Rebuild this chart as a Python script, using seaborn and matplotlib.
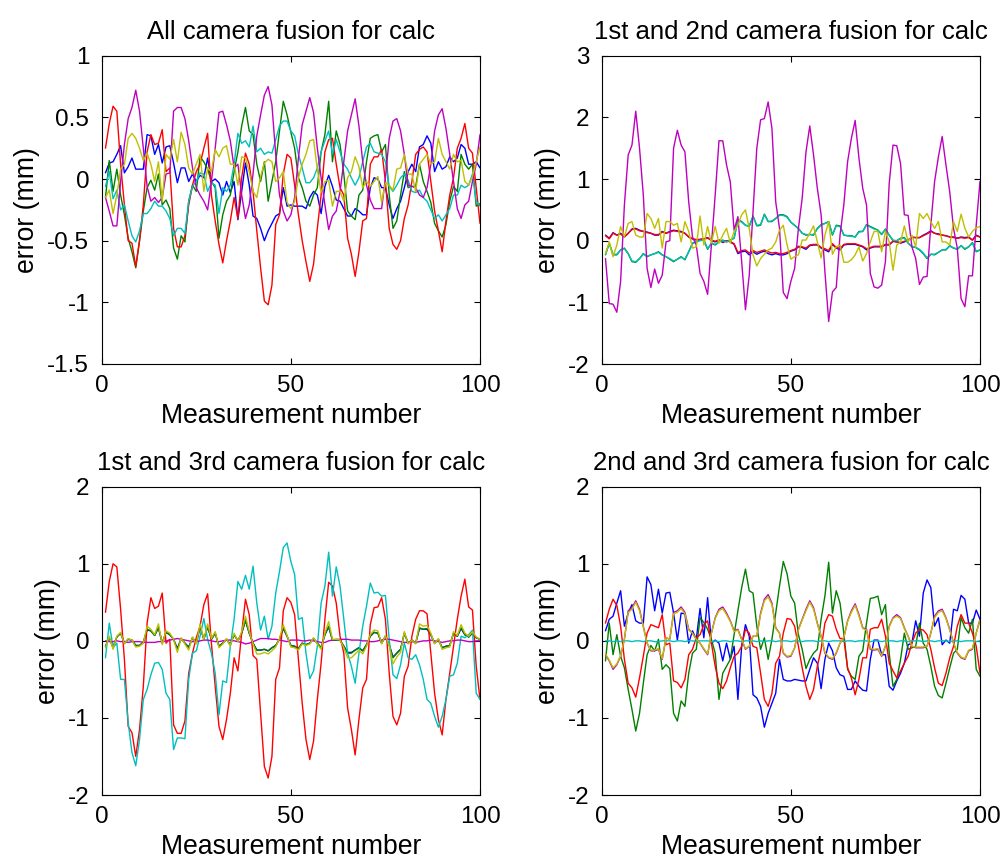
import numpy as np
import pandas as pd
import matplotlib
matplotlib.use("Agg")
import matplotlib.pyplot as plt
import seaborn as sns

# ---------------------------------------------------------------- data
meas = list(range(1, 101))

# panel 1: all camera fusion
p1_blue = [0.05, 0.13, 0.14, 0.20, 0.27, 0.05, 0.10, 0.17, 0.08, 0.08,
           0.08, 0.36, 0.35, 0.20, 0.28, 0.13, 0.26, 0.27, 0.13, -0.03,
           0.09, 0.09, -0.02, 0.04, -0.02, 0.03, 0.01, 0.17, -0.02, 0.00,
           -0.03, -0.13, -0.02, -0.11, -0.02, -0.33, -0.10, 0.13, -0.05, -0.30,
           -0.32, -0.40, -0.50, -0.42, -0.36, -0.30, -0.28, -0.07, -0.22, -0.21,
           -0.22, -0.22, -0.22, -0.24, -0.15, -0.10, -0.13, -0.28, -0.06, 0.03,
           -0.06, -0.17, -0.18, -0.24, -0.30, -0.30, -0.24, -0.26, -0.29, -0.29,
           -0.07, 0.01, 0.00, -0.07, -0.07, -0.21, -0.32, -0.24, -0.18, -0.07,
           0.06, 0.12, 0.06, 0.26, 0.28, 0.35, 0.29, 0.06, 0.14, 0.08,
           0.10, 0.18, 0.14, 0.17, 0.28, 0.25, 0.12, 0.12, 0.14, 0.09]
p1_green = [-0.15, 0.15, -0.10, 0.08, -0.13, -0.29, -0.48, -0.59, -0.72, -0.50,
            -0.26, -0.07, -0.01, -0.09, 0.04, -0.21, -0.17, -0.24, -0.56, -0.65,
            -0.46, -0.51, -0.18, -0.05, -0.10, 0.18, 0.14, 0.08, -0.02, -0.07,
            -0.48, -0.29, -0.18, -0.13, 0.06, 0.22, 0.43, 0.58, 0.39, 0.36,
            0.12, -0.02, 0.14, -0.18, -0.02, 0.14, 0.39, 0.63, 0.52, 0.38,
            0.25, 0.01, -0.07, -0.18, -0.22, -0.13, -0.07, 0.22, 0.36, 0.63,
            0.14, 0.39, 0.28, 0.04, -0.26, -0.30, -0.33, -0.13, -0.09, 0.14,
            0.33, 0.35, 0.36, 0.22, 0.28, -0.13, -0.40, -0.34, -0.13, 0.06,
            -0.07, -0.06, -0.06, 0.12, -0.02, -0.10, -0.19, -0.36, -0.42, -0.47,
            -0.37, -0.18, -0.06, -0.10, 0.20, 0.12, 0.08, 0.12, -0.22, -0.20]
p1_red = [0.25, 0.45, 0.59, 0.55, 0.12, -0.21, -0.50, -0.52, -0.71, -0.50,
          -0.21, 0.22, 0.36, 0.28, 0.29, 0.40, 0.06, 0.09, -0.40, -0.55,
          -0.55, -0.46, -0.21, -0.05, 0.06, 0.12, 0.25, 0.37, -0.13, -0.34,
          -0.53, -0.68, -0.50, -0.34, -0.15, -0.32, 0.01, 0.21, 0.12, -0.10,
          -0.42, -0.72, -0.99, -1.02, -0.86, -0.37, -0.29, 0.04, 0.20, 0.17,
          -0.05, -0.29, -0.50, -0.67, -0.83, -0.69, -0.40, -0.13, 0.22, 0.32,
          0.33, 0.12, -0.07, -0.13, -0.48, -0.61, -0.79, -0.59, -0.34, -0.32,
          0.12, 0.18, 0.18, 0.24, -0.02, -0.40, -0.53, -0.57, -0.50, -0.32,
          -0.21, -0.02, 0.20, 0.24, 0.26, 0.22, -0.02, -0.26, -0.42, -0.59,
          -0.34, -0.13, 0.01, 0.25, 0.33, 0.45, 0.25, 0.21, -0.07, -0.36]
p1_cyan = [-0.06, 0.06, -0.16, -0.09, -0.25, -0.21, -0.34, -0.46, -0.51, -0.42,
           -0.28, -0.28, -0.24, -0.18, -0.22, -0.22, -0.26, -0.32, -0.46, -0.40,
           -0.40, -0.44, -0.18, -0.06, -0.02, 0.05, 0.04, -0.10, -0.03, -0.05,
           -0.28, -0.07, -0.10, -0.05, 0.12, 0.37, 0.29, 0.31, 0.26, 0.43,
           0.22, 0.25, 0.20, 0.22, 0.21, 0.32, 0.43, 0.47, 0.47, 0.39,
           0.35, 0.20, 0.09, -0.03, -0.03, 0.01, 0.09, 0.22, 0.31, 0.39,
           0.20, 0.32, 0.22, 0.12, 0.08, 0.01, -0.05, 0.01, 0.14, 0.26,
           0.29, 0.22, 0.21, 0.20, 0.14, -0.06, -0.10, -0.05, 0.01, 0.04,
           -0.01, -0.10, -0.11, -0.09, -0.15, -0.18, -0.25, -0.32, -0.29, -0.34,
           -0.29, -0.24, -0.13, -0.13, -0.05, -0.07, -0.05, 0.04, -0.18, -0.22]
p1_magenta = [-0.15, -0.26, -0.38, -0.38, -0.02, 0.28, 0.49, 0.58, 0.72, 0.55,
              0.25, -0.06, -0.18, -0.15, -0.19, -0.15, 0.04, 0.05, 0.55, 0.58,
              0.58, 0.49, 0.31, 0.09, -0.07, -0.13, -0.18, -0.25, -0.02, 0.25,
              0.54, 0.55, 0.44, 0.31, 0.09, 0.12, -0.13, -0.32, -0.21, 0.04,
              0.35, 0.52, 0.68, 0.75, 0.60, 0.20, -0.13, -0.26, -0.34, -0.29,
              -0.15, 0.17, 0.44, 0.55, 0.66, 0.54, 0.25, 0.01, -0.21, -0.41,
              -0.30, -0.26, -0.10, 0.14, 0.39, 0.52, 0.65, 0.43, 0.14, -0.05,
              -0.17, -0.24, -0.24, -0.24, 0.01, 0.33, 0.47, 0.49, 0.39, 0.20,
              -0.05, -0.06, -0.07, -0.13, -0.15, -0.07, 0.12, 0.39, 0.52, 0.57,
              0.41, 0.20, -0.02, -0.24, -0.32, -0.21, -0.18, -0.02, 0.12, 0.36]
p1_yellow = [-0.15, -0.09, -0.28, -0.13, 0.08, 0.12, 0.33, 0.37, 0.33, 0.25,
             0.15, 0.21, 0.12, -0.02, 0.14, -0.18, 0.20, 0.16, 0.32, 0.14,
             0.38, 0.28, 0.09, 0.04, 0.12, 0.20, -0.10, 0.09, 0.06, 0.24,
             0.18, 0.25, 0.27, 0.12, 0.12, -0.05, 0.18, 0.17, 0.06, -0.10,
             -0.15, 0.02, 0.13, 0.16, 0.14, -0.02, 0.01, 0.06, -0.19, -0.24,
             -0.18, 0.01, 0.12, 0.20, 0.31, 0.32, 0.08, -0.11, -0.02, -0.01,
             -0.22, -0.10, -0.10, -0.18, 0.01, 0.06, 0.18, 0.10, -0.07, -0.02,
             -0.06, -0.02, 0.02, -0.19, -0.03, -0.05, -0.09, 0.08, 0.09, 0.20,
             0.04, 0.04, -0.10, 0.12, 0.16, 0.20, 0.12, 0.14, 0.33, 0.20,
             0.14, 0.08, 0.20, 0.14, 0.15, -0.02, -0.05, 0.02, 0.14, 0.26]

# panel 2: 1st and 2nd camera fusion
p2_blue = [0.09, 0.04, 0.13, 0.09, 0.12, 0.06, 0.12, 0.19, 0.20, 0.17,
           0.15, 0.14, 0.12, 0.09, 0.09, 0.15, 0.12, 0.15, 0.17, 0.16,
           0.15, 0.12, 0.06, 0.03, 0.01, 0.02, 0.03, 0.05, 0.00, -0.02,
           0.01, -0.03, 0.00, -0.02, -0.06, -0.21, -0.18, -0.17, -0.23, -0.18,
           -0.22, -0.19, -0.17, -0.21, -0.23, -0.21, -0.23, -0.23, -0.21, -0.17,
           -0.15, -0.10, -0.11, -0.14, -0.08, -0.07, -0.07, -0.12, -0.15, -0.18,
           -0.06, -0.12, -0.15, -0.07, -0.06, -0.06, -0.06, -0.08, -0.10, -0.15,
           -0.12, -0.10, -0.10, -0.10, -0.07, -0.07, -0.01, -0.02, -0.04, -0.02,
           0.01, 0.06, 0.05, 0.05, 0.09, 0.12, 0.16, 0.12, 0.11, 0.09,
           0.08, 0.06, 0.06, 0.04, 0.06, 0.05, 0.06, 0.01, 0.09, 0.06]
p2_green = [-0.23, -0.04, -0.23, -0.23, -0.15, -0.12, -0.21, -0.34, -0.35, -0.29,
            -0.21, -0.26, -0.23, -0.21, -0.18, -0.23, -0.26, -0.30, -0.34, -0.30,
            -0.26, -0.31, -0.18, -0.04, -0.02, 0.01, 0.01, -0.14, -0.04, -0.07,
            -0.02, 0.01, -0.02, 0.01, 0.04, 0.34, 0.31, 0.25, 0.23, 0.40,
            0.24, 0.25, 0.43, 0.31, 0.31, 0.36, 0.42, 0.42, 0.39, 0.30,
            0.25, 0.20, 0.12, 0.09, 0.10, 0.09, 0.20, 0.26, 0.28, 0.31,
            0.09, 0.25, 0.24, 0.09, 0.08, 0.08, 0.06, 0.15, 0.15, 0.26,
            0.23, 0.20, 0.17, 0.10, 0.19, 0.09, 0.00, 0.00, 0.04, 0.05,
            -0.04, -0.10, -0.11, -0.15, -0.21, -0.29, -0.22, -0.23, -0.19, -0.15,
            -0.15, -0.08, -0.12, -0.14, -0.08, -0.14, -0.10, -0.03, -0.18, -0.15]
p2_red = [0.08, 0.03, 0.12, 0.09, 0.11, 0.06, 0.12, 0.18, 0.19, 0.16,
          0.15, 0.13, 0.12, 0.10, 0.10, 0.14, 0.12, 0.14, 0.16, 0.15,
          0.14, 0.12, 0.06, 0.03, 0.02, 0.02, 0.03, 0.04, 0.01, -0.01,
          0.01, -0.02, 0.00, -0.01, -0.05, -0.19, -0.16, -0.15, -0.20, -0.16,
          -0.19, -0.17, -0.15, -0.18, -0.20, -0.19, -0.21, -0.21, -0.19, -0.16,
          -0.14, -0.09, -0.10, -0.12, -0.07, -0.06, -0.06, -0.11, -0.13, -0.16,
          -0.05, -0.11, -0.13, -0.06, -0.05, -0.05, -0.05, -0.07, -0.09, -0.13,
          -0.11, -0.09, -0.09, -0.09, -0.06, -0.06, -0.01, -0.02, -0.03, -0.01,
          0.01, 0.05, 0.05, 0.05, 0.08, 0.11, 0.15, 0.12, 0.10, 0.09,
          0.08, 0.06, 0.05, 0.04, 0.05, 0.04, 0.05, 0.01, 0.08, 0.06]
p2_cyan = [-0.22, -0.05, -0.22, -0.22, -0.15, -0.13, -0.21, -0.33, -0.34, -0.29,
           -0.22, -0.25, -0.23, -0.21, -0.19, -0.23, -0.26, -0.29, -0.33, -0.30,
           -0.27, -0.30, -0.18, -0.05, -0.02, 0.00, 0.01, -0.13, -0.04, -0.06,
           -0.02, 0.00, -0.02, 0.01, 0.04, 0.33, 0.30, 0.25, 0.24, 0.39,
           0.25, 0.26, 0.42, 0.31, 0.32, 0.36, 0.41, 0.41, 0.38, 0.30,
           0.25, 0.19, 0.12, 0.10, 0.10, 0.10, 0.19, 0.25, 0.28, 0.30,
           0.10, 0.24, 0.23, 0.09, 0.08, 0.07, 0.06, 0.14, 0.15, 0.25,
           0.22, 0.19, 0.17, 0.11, 0.18, 0.09, 0.01, 0.00, 0.03, 0.04,
           -0.04, -0.09, -0.11, -0.14, -0.20, -0.28, -0.22, -0.22, -0.19, -0.15,
           -0.14, -0.09, -0.12, -0.13, -0.08, -0.13, -0.10, -0.04, -0.17, -0.15]
p2_magenta = [-0.29, -1.02, -1.03, -1.16, -0.66, 0.58, 1.39, 1.55, 2.10, 1.50,
              0.74, -0.45, -0.76, -0.46, -0.69, -0.56, -0.02, 0.00, 1.50, 1.79,
              1.55, 1.44, 0.63, 0.06, -0.07, -0.53, -0.66, -0.87, -0.07, 0.74,
              1.62, 1.62, 1.23, 0.95, 0.17, 0.39, -0.34, -1.12, -0.56, 0.47,
              1.50, 1.96, 1.98, 2.25, 1.82, 0.63, 0.20, -0.84, -0.94, -0.66,
              -0.45, 0.20, 0.69, 1.44, 1.86, 1.39, 0.85, 0.42, -0.50, -1.31,
              -0.83, -0.76, 0.09, 0.58, 1.28, 1.66, 1.95, 1.34, 0.85, 0.58,
              -0.53, -0.75, -0.77, -0.72, -0.34, 0.93, 1.55, 1.54, 1.25, 0.42,
              0.41, -0.10, -0.29, -0.71, -0.59, -0.58, 0.25, 0.96, 1.36, 1.69,
              1.23, 0.79, 0.20, -0.12, -0.94, -1.07, -0.57, -0.57, 0.25, 0.96]
p2_yellow = [-0.21, -0.02, -0.26, -0.07, 0.23, 0.06, 0.28, 0.31, 0.09, 0.06,
             0.06, 0.44, 0.36, 0.20, 0.36, -0.12, 0.31, 0.31, 0.25, 0.28,
             -0.02, 0.31, 0.15, -0.12, -0.10, 0.40, -0.07, 0.23, -0.04, 0.23,
             -0.04, 0.09, 0.20, -0.04, 0.15, 0.25, 0.42, 0.50, 0.20, -0.23,
             -0.41, -0.29, -0.22, -0.15, -0.12, -0.02, 0.17, 0.25, -0.07, -0.30,
             -0.26, -0.23, 0.01, 0.01, 0.12, 0.24, -0.02, -0.28, 0.09, 0.31,
             -0.22, -0.10, -0.07, -0.35, -0.35, -0.31, -0.23, -0.10, -0.33, -0.21,
             -0.02, 0.15, 0.15, -0.18, 0.15, -0.02, -0.48, -0.07, -0.02, 0.24,
             -0.02, 0.09, -0.10, 0.44, 0.36, 0.44, 0.31, 0.20, 0.31, -0.02,
             -0.02, -0.07, 0.31, 0.15, 0.43, 0.20, 0.06, 0.15, 0.21, 0.23]

# panel 3: 1st and 3rd camera fusion
p3_blue = [-0.07, 0.04, -0.08, 0.05, 0.10, -0.03, 0.02, 0.01, -0.06, -0.06,
           -0.02, 0.14, 0.13, 0.07, 0.17, -0.03, 0.11, 0.08, 0.02, -0.10,
           0.03, -0.03, -0.08, 0.04, -0.03, 0.18, 0.02, 0.18, 0.02, 0.10,
           -0.07, -0.03, 0.02, -0.05, 0.08, 0.00, 0.10, 0.27, 0.10, -0.03,
           -0.12, -0.12, -0.11, -0.13, -0.09, -0.06, 0.02, 0.16, 0.06, -0.06,
           -0.07, -0.10, -0.03, -0.05, -0.03, 0.03, -0.03, -0.09, 0.08, 0.18,
           0.01, 0.01, 0.01, -0.07, -0.15, -0.15, -0.12, -0.09, -0.13, -0.05,
           0.06, 0.11, 0.10, -0.03, 0.06, -0.05, -0.21, -0.16, -0.11, 0.10,
           -0.03, 0.01, -0.03, 0.16, 0.15, 0.15, 0.08, -0.03, 0.02, -0.09,
           -0.07, -0.06, 0.10, 0.06, 0.16, 0.08, 0.05, 0.10, 0.04, 0.02]
p3_green = [-0.07, 0.04, -0.09, 0.05, 0.10, -0.03, 0.02, 0.01, -0.06, -0.06,
            -0.02, 0.15, 0.13, 0.07, 0.18, -0.03, 0.11, 0.08, 0.02, -0.11,
            0.03, -0.03, -0.09, 0.04, -0.03, 0.19, 0.02, 0.19, 0.02, 0.10,
            -0.07, -0.03, 0.02, -0.05, 0.08, 0.00, 0.10, 0.26, 0.10, -0.03,
            -0.12, -0.12, -0.11, -0.13, -0.09, -0.06, 0.02, 0.17, 0.06, -0.06,
            -0.07, -0.10, -0.03, -0.05, -0.03, 0.03, -0.03, -0.09, 0.08, 0.19,
            0.01, 0.01, 0.01, -0.07, -0.16, -0.16, -0.12, -0.09, -0.13, -0.05,
            0.06, 0.11, 0.10, -0.03, 0.06, -0.05, -0.22, -0.16, -0.11, 0.10,
            -0.03, 0.01, -0.03, 0.17, 0.15, 0.16, 0.08, -0.03, 0.02, -0.09,
            -0.07, -0.06, 0.10, 0.06, 0.17, 0.08, 0.05, 0.10, 0.04, 0.02]
p3_red = [0.37, 0.77, 1.00, 0.96, 0.41, -0.24, -1.11, -1.19, -1.50, -1.15,
          -0.59, 0.23, 0.56, 0.42, 0.45, 0.62, -0.03, 0.02, -1.09, -1.20,
          -1.20, -1.04, -0.42, -0.16, 0.04, 0.19, 0.47, 0.61, -0.03, -0.59,
          -1.11, -1.28, -1.02, -0.68, -0.22, -0.39, 0.10, 0.54, 0.34, -0.19,
          -0.24, -0.94, -1.63, -1.78, -1.50, -0.50, -0.35, 0.39, 0.56, 0.50,
          0.34, -0.24, -0.81, -1.28, -1.54, -1.30, -0.76, -0.29, 0.28, 0.76,
          0.71, 0.49, 0.06, -0.16, -0.87, -1.15, -1.48, -1.02, -0.61, -0.50,
          0.21, 0.43, 0.44, 0.56, 0.28, -0.42, -0.98, -1.09, -0.94, -0.46,
          -0.33, 0.06, 0.28, 0.39, 0.39, 0.35, -0.16, -0.68, -1.02, -1.22,
          -0.76, -0.42, -0.07, 0.28, 0.58, 0.80, 0.44, 0.40, -0.33, -0.76]
p3_cyan = [-0.22, 0.23, -0.09, -0.03, -0.50, -0.50, -1.06, -1.45, -1.62, -1.28,
           -0.76, -0.63, -0.44, -0.29, -0.28, -0.37, -0.68, -0.76, -1.41, -1.26,
           -1.26, -1.27, -0.50, -0.16, -0.13, 0.06, 0.29, 0.02, -0.16, -0.42,
           -0.96, -0.52, -0.54, -0.07, 0.28, 0.77, 0.67, 0.85, 0.67, 0.97,
           0.49, 0.14, 0.32, 0.02, 0.19, 0.62, 0.90, 1.21, 1.27, 1.03,
           0.86, 0.28, 0.30, -0.16, -0.49, -0.39, -0.07, 0.49, 0.71, 1.15,
           0.58, 0.96, 0.71, 0.28, -0.16, -0.33, -0.55, -0.16, 0.19, 0.45,
           0.75, 0.62, 0.63, 0.58, 0.59, 0.02, -0.44, -0.49, -0.31, -0.03,
           -0.22, -0.24, -0.18, -0.31, -0.50, -0.76, -0.81, -0.98, -1.12, -0.98,
           -0.76, -0.46, -0.44, -0.29, 0.06, 0.04, 0.08, 0.14, -0.68, -0.76]
p3_magenta = [0.00, -0.01, -0.01, 0.00, -0.01, -0.01, -0.02, -0.01, -0.01, -0.01,
              -0.02, -0.02, -0.02, -0.02, -0.01, -0.01, 0.00, 0.01, 0.02, 0.03,
              0.02, 0.01, 0.00, -0.01, -0.01, 0.00, 0.01, 0.01, 0.00, -0.01,
              -0.01, 0.00, 0.01, 0.01, 0.00, -0.01, -0.02, -0.04, -0.03, -0.01,
              0.01, 0.03, 0.03, 0.03, 0.02, 0.02, 0.01, 0.00, -0.01, 0.01,
              0.01, 0.01, 0.00, 0.00, 0.01, 0.00, -0.01, -0.02, -0.02, 0.00,
              0.01, 0.02, 0.02, 0.02, 0.02, 0.01, 0.01, 0.01, 0.00, 0.00,
              -0.01, -0.01, 0.00, 0.01, 0.02, 0.02, 0.01, 0.00, -0.01, -0.02,
              -0.02, -0.01, -0.02, -0.01, 0.00, 0.00, 0.01, 0.00, -0.01, -0.02,
              -0.01, 0.00, 0.00, 0.01, 0.01, 0.00, -0.01, -0.01, 0.00, 0.00]
p3_yellow = [-0.09, 0.06, -0.11, 0.06, 0.11, -0.04, 0.03, 0.01, -0.08, -0.07,
             -0.03, 0.19, 0.15, 0.08, 0.22, -0.05, 0.13, 0.10, 0.02, -0.15,
             0.04, -0.04, -0.12, 0.05, -0.04, 0.22, 0.02, 0.22, 0.03, 0.12,
             -0.09, -0.04, 0.03, -0.07, 0.10, -0.01, 0.12, 0.32, 0.12, -0.04,
             -0.17, -0.17, -0.15, -0.17, -0.13, -0.08, 0.03, 0.21, 0.07, -0.08,
             -0.09, -0.12, -0.04, -0.06, -0.04, 0.04, -0.04, -0.11, 0.10, 0.25,
             0.02, 0.02, 0.01, -0.09, -0.22, -0.22, -0.17, -0.12, -0.17, -0.07,
             0.08, 0.14, 0.13, -0.04, 0.07, -0.07, -0.30, -0.21, -0.15, 0.12,
             -0.04, 0.01, -0.04, 0.22, 0.19, 0.20, 0.10, -0.04, 0.03, -0.11,
             -0.09, -0.08, 0.12, 0.07, 0.21, 0.10, 0.06, 0.12, 0.05, 0.02]

# panel 4: 2nd and 3rd camera fusion
p4_blue = [0.13, 0.28, 0.32, 0.49, 0.65, 0.19, 0.36, 0.47, 0.26, 0.23,
           0.23, 0.83, 0.73, 0.39, 0.67, 0.36, 0.62, 0.63, 0.36, 0.01,
           0.36, 0.35, -0.03, 0.13, 0.02, 0.42, 0.04, 0.56, -0.03, 0.01,
           -0.03, -0.26, -0.03, -0.24, -0.07, -0.76, -0.07, 0.21, 0.06, -0.70,
           -0.74, -0.85, -1.12, -0.94, -0.81, -0.68, -0.24, -0.50, -0.52, -0.52,
           -0.50, -0.51, -0.52, -0.52, -0.37, -0.22, -0.29, -0.62, -0.24, -0.03,
           -0.13, -0.35, -0.44, -0.46, -0.63, -0.63, -0.52, -0.59, -0.64, -0.65,
           -0.24, 0.01, 0.01, -0.18, -0.18, -0.59, -0.64, -0.52, -0.42, -0.29,
           -0.05, -0.03, 0.26, 0.06, 0.62, 0.79, 0.69, 0.19, 0.30, -0.05,
           0.01, -0.03, 0.41, 0.39, 0.59, 0.54, 0.23, 0.23, 0.40, 0.28]
p4_green = [-0.26, 0.23, -0.18, 0.08, -0.20, -0.35, -0.63, -0.89, -1.17, -0.94,
            -0.55, -0.18, -0.06, -0.13, 0.02, -0.37, -0.31, -0.36, -0.94, -1.04,
            -0.78, -0.85, -0.42, -0.16, -0.11, 0.30, 0.24, 0.15, 0.02, -0.16,
            -0.76, -0.42, -0.33, -0.24, 0.08, 0.39, 0.69, 0.93, 0.65, 0.62,
            0.19, -0.11, 0.04, -0.24, 0.02, 0.36, 0.71, 1.03, 0.87, 0.58,
            0.49, 0.08, -0.11, -0.36, -0.24, -0.16, -0.11, 0.28, 0.58, 1.02,
            0.36, 0.65, 0.49, 0.10, -0.37, -0.46, -0.50, -0.20, -0.13, 0.23,
            0.55, 0.56, 0.58, 0.34, 0.47, -0.16, -0.59, -0.50, -0.24, 0.10,
            -0.11, -0.09, -0.07, 0.23, -0.03, -0.11, -0.33, -0.59, -0.71, -0.74,
            -0.55, -0.35, -0.16, -0.11, 0.30, 0.17, 0.10, 0.28, -0.37, -0.46]
p4_red = [0.23, 0.41, 0.54, 0.46, 0.19, -0.24, -0.55, -0.61, -0.73, -0.48,
          -0.20, 0.10, 0.21, 0.19, 0.17, 0.34, -0.05, -0.03, -0.52, -0.54,
          -0.61, -0.50, -0.18, -0.11, 0.04, 0.08, 0.21, 0.26, -0.03, -0.33,
          -0.55, -0.62, -0.52, -0.35, -0.20, -0.16, -0.07, 0.15, 0.10, -0.07,
          -0.09, -0.42, -0.76, -0.85, -0.68, -0.29, -0.20, 0.10, 0.29, 0.28,
          0.19, -0.07, -0.35, -0.59, -0.76, -0.63, -0.33, -0.11, 0.23, 0.34,
          0.32, 0.15, 0.03, 0.03, -0.35, -0.48, -0.70, -0.50, -0.22, -0.22,
          0.15, 0.17, 0.17, 0.28, 0.06, -0.29, -0.39, -0.48, -0.39, -0.29,
          -0.20, -0.03, 0.10, 0.15, 0.14, 0.08, -0.11, -0.35, -0.55, -0.58,
          -0.42, -0.22, -0.07, 0.19, 0.34, 0.23, 0.23, 0.10, -0.07, -0.42]
p4_cyan = [0.00, 0.00, -0.01, 0.00, -0.01, 0.00, 0.00, -0.01, 0.00, 0.00,
           -0.01, 0.00, 0.00, -0.01, -0.01, 0.00, 0.00, 0.00, -0.01, 0.00,
           0.00, -0.01, 0.00, 0.00, -0.01, 0.00, 0.00, 0.00, -0.01, 0.00,
           -0.01, 0.00, 0.00, -0.01, 0.00, 0.00, -0.01, 0.00, 0.00, 0.00,
           -0.01, 0.00, -0.01, 0.00, 0.00, -0.01, 0.00, 0.00, 0.00, -0.01,
           0.00, 0.00, -0.01, 0.00, 0.00, 0.00, -0.01, 0.00, 0.00, -0.01,
           0.00, 0.00, 0.00, -0.01, 0.00, 0.00, -0.01, 0.00, 0.00, 0.00,
           -0.01, 0.00, 0.00, -0.01, 0.00, 0.00, 0.00, -0.01, 0.00, 0.00,
           -0.01, 0.00, 0.00, 0.00, -0.01, 0.00, 0.00, -0.01, 0.00, 0.00,
           0.00, -0.01, 0.00, 0.00, -0.01, 0.00, 0.00, 0.00, -0.01, 0.00]
p4_magenta = [-0.18, -0.26, -0.37, -0.31, -0.20, 0.02, 0.39, 0.43, 0.52, 0.41,
              0.19, -0.03, -0.13, -0.13, -0.11, -0.24, 0.04, 0.02, 0.37, 0.39,
              0.44, 0.37, 0.15, 0.10, 0.02, -0.03, -0.11, -0.18, 0.10, 0.30,
              0.41, 0.44, 0.36, 0.26, 0.13, 0.15, 0.02, -0.11, -0.07, 0.06,
              0.06, 0.36, 0.54, 0.60, 0.49, 0.17, 0.10, -0.16, -0.21, -0.20,
              -0.09, 0.15, 0.28, 0.41, 0.52, 0.43, 0.23, 0.06, -0.16, -0.22,
              -0.24, -0.16, -0.03, 0.04, 0.26, 0.39, 0.48, 0.34, 0.17, 0.15,
              -0.11, -0.12, -0.11, -0.20, -0.07, 0.19, 0.30, 0.34, 0.30, 0.17,
              0.06, -0.07, -0.09, -0.09, -0.09, -0.07, 0.10, 0.32, 0.39, 0.41,
              0.30, 0.15, -0.03, -0.16, -0.22, -0.24, -0.13, -0.11, 0.10, 0.28]
p4_yellow = [-0.17, -0.25, -0.35, -0.30, -0.19, 0.02, 0.37, 0.41, 0.50, 0.39,
             0.18, -0.03, -0.12, -0.12, -0.10, -0.23, 0.04, 0.02, 0.35, 0.37,
             0.42, 0.35, 0.14, 0.10, 0.02, -0.03, -0.10, -0.17, 0.10, 0.29,
             0.39, 0.42, 0.34, 0.25, 0.12, 0.14, 0.02, -0.10, -0.07, 0.06,
             0.06, 0.34, 0.52, 0.57, 0.47, 0.16, 0.10, -0.15, -0.20, -0.19,
             -0.09, 0.14, 0.27, 0.39, 0.50, 0.41, 0.22, 0.06, -0.15, -0.21,
             -0.23, -0.15, -0.03, 0.04, 0.25, 0.37, 0.46, 0.32, 0.16, 0.14,
             -0.10, -0.11, -0.10, -0.19, -0.07, 0.18, 0.29, 0.32, 0.29, 0.16,
             0.06, -0.07, -0.08, -0.08, -0.08, -0.07, 0.10, 0.30, 0.37, 0.39,
             0.29, 0.14, -0.03, -0.15, -0.21, -0.23, -0.12, -0.10, 0.10, 0.27]

titles = ["All camera fusion for calc",
          "1st and 2nd camera fusion for calc",
          "1st and 3rd camera fusion for calc",
          "2nd and 3rd camera fusion for calc"]
x_ticks = [0, 50, 100]
y_ticks = [[1, 0.5, 0, -0.5, -1, -1.5],
           [3, 2, 1, 0, -1, -2],
           [2, 1, 0, -1, -2],
           [2, 1, 0, -1, -2]]
y_tick_labels = [["1", "0.5", "0", "-0.5", "-1", "-1.5"],
                 ["3", "2", "1", "0", "-1", "-2"],
                 ["2", "1", "0", "-1", "-2"],
                 ["2", "1", "0", "-1", "-2"]]
y_limits = [(-1.5, 1), (-2, 3), (-2, 2), (-2, 2)]
x_label = "Measurement number"
y_label = "error (mm)"

series_names = ["b", "g", "r", "c", "m", "y"]
panel_values = [
    [p1_blue, p1_green, p1_red, p1_cyan, p1_magenta, p1_yellow],
    [p2_blue, p2_green, p2_red, p2_cyan, p2_magenta, p2_yellow],
    [p3_blue, p3_green, p3_red, p3_cyan, p3_magenta, p3_yellow],
    [p4_blue, p4_green, p4_red, p4_cyan, p4_magenta, p4_yellow],
]

# ---------------------------------------------------------------- style
sns.set_theme(style="white")
palette = {"b": (0, 0, 1), "g": (0, 0.5, 0), "r": (1, 0, 0),
           "c": (0, 0.75, 0.75), "m": (0.75, 0, 0.75), "y": (0.75, 0.75, 0)}
plt.rcParams.update({
    "font.family": ["Liberation Sans", "DejaVu Sans"],
    "font.size": 17,
    "axes.unicode_minus": False,
    "axes.edgecolor": "black",
    "axes.linewidth": 0.8,
    "xtick.direction": "in",
    "ytick.direction": "in",
    "xtick.top": True,
    "ytick.right": True,
    "xtick.bottom": True,
    "ytick.left": True,
    "xtick.major.size": 4,
    "ytick.major.size": 4,
    "xtick.major.width": 0.8,
    "ytick.major.width": 0.8,
    "xtick.color": "black",
    "ytick.color": "black",
    "xtick.labelsize": 17.5,
    "ytick.labelsize": 17.5,
    "xtick.major.pad": 8,
    "ytick.major.pad": 9,
    "text.color": "black",
    "axes.labelcolor": "black",
})

W, H = 1003, 861
fig = plt.figure(figsize=(W / 100, H / 100), dpi=100)
fig.patch.set_facecolor("white")

boxes = [(101.7, 55.7), (601.7, 55.7), (101.7, 486.7), (601.7, 486.7)]
box_w, box_h = 378.3, 308.3

for k, (left, top) in enumerate(boxes):
    ax = fig.add_axes([left / W, 1 - (top + box_h) / H, box_w / W, box_h / H])
    frames = []
    for name, vals in zip(series_names, panel_values[k]):
        frames.append(pd.DataFrame({"n": meas, "err": vals, "series": name}))
    df = pd.concat(frames, ignore_index=True)
    sns.lineplot(data=df, x="n", y="err", hue="series", hue_order=series_names,
                 palette=palette, estimator=None, sort=False, legend=False,
                 linewidth=1.0, ax=ax)
    ax.set_xlim(0, 100)
    ax.set_ylim(*y_limits[k])
    ax.set_xticks(x_ticks)
    ax.set_xticklabels([str(t) for t in x_ticks])
    ax.set_yticks(y_ticks[k])
    ax.set_yticklabels(y_tick_labels[k])
    ax.set_xlabel(x_label, fontsize=19.2, labelpad=4)
    ax.set_ylabel(y_label, fontsize=19.2, labelpad=5)
    ax.set_title(titles[k], fontsize=18.5, pad=12)
    for s in ax.spines.values():
        s.set_visible(True)
        s.set_color("black")

fig.savefig("out.png", dpi=100, facecolor="white")
